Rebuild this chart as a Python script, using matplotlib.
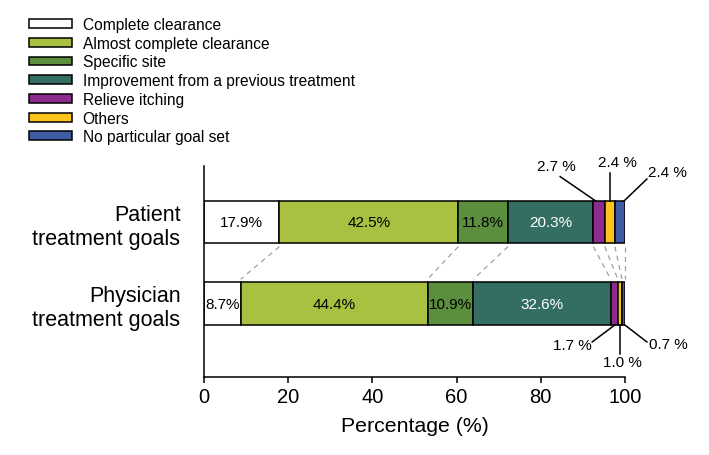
import numpy as np
import matplotlib
matplotlib.use("Agg")
import matplotlib.pyplot as plt
from matplotlib.patches import Patch

plt.rcParams["font.family"] = ["Liberation Sans", "DejaVu Sans"]

# ---------------------------------------------------------------------------
# DATA
# ---------------------------------------------------------------------------
categories = ["Complete clearance", "Almost complete clearance", "Specific site",
              "Improvement from a previous treatment", "Relieve itching",
              "Others", "No particular goal set"]
colors = ["#ffffff", "#a9c141", "#5b8f3d", "#346e63", "#8c2a8f", "#fbc31b", "#3e5ba3"]
text_colors = ["black", "black", "black", "white"]

groups = ["Physician\ntreatment goals", "Patient\ntreatment goals"]
patient = [17.9, 42.5, 11.8, 20.3, 2.7, 2.4, 2.4]
physician = [8.7, 44.4, 10.9, 32.6, 1.7, 1.0, 0.7]

H = 0.52

fig = plt.figure(figsize=(7.09, 4.56), dpi=100)
ax = fig.add_axes([204 / 709, 78 / 456, 421 / 709, 211 / 456])

cum_pat = np.concatenate([[0], np.cumsum(patient)])
cum_phy = np.concatenate([[0], np.cumsum(physician)])

for i, c in enumerate(categories):
    ax.barh(1, patient[i], left=cum_pat[i], height=H, color=colors[i],
            edgecolor="black", linewidth=1.1)
    ax.barh(0, physician[i], left=cum_phy[i], height=H, color=colors[i],
            edgecolor="black", linewidth=1.1)

# in-bar labels for the four big segments
for i in range(4):
    ax.text(cum_pat[i] + patient[i] / 2, 1, f"{patient[i]}%", ha="center",
            va="center", fontsize=11, color=text_colors[i])
    ax.text(cum_phy[i] + physician[i] / 2, 0, f"{physician[i]}%", ha="center",
            va="center", fontsize=11, color=text_colors[i])

# dashed connectors between segment boundaries
for k in [1, 2, 3, 4, 5, 6, 7]:
    ax.plot([cum_pat[k], cum_phy[k]], [1 - H / 2 - 0.04, H / 2 + 0.04],
            color="#a0a0a0", lw=0.9, ls=(0, (4, 3.5)), clip_on=False)

# leader labels for the small segments
# (segment index, anchor fraction in segment, line end, text pos)
pat_notes = [(4, 0.2, (84.6, 1.56), (83.6, 1.69)),
             (5, 0.5, None, (98.1, 1.74)),
             (6, 0.9, (105.2, 1.53), (110.0, 1.62))]
phy_notes = [(4, 0.6, (92.2, -0.47), (87.4, -0.51)),
             (5, 0.5, None, (99.3, -0.71)),
             (6, 0.9, (105.2, -0.47), (110.2, -0.49))]

for idx, frac, end, tpos in pat_notes:
    x0 = cum_pat[idx] + patient[idx] * frac
    if end is None:
        end = (x0, 1.61)
    ax.plot([x0, end[0]], [1 + H / 2, end[1]], color="black", lw=1.1, clip_on=False)
    ax.text(tpos[0], tpos[1], f"{patient[idx]} %", ha="center", va="center",
            fontsize=11, clip_on=False)

for idx, frac, end, tpos in phy_notes:
    x0 = cum_phy[idx] + physician[idx] * frac
    if end is None:
        end = (x0, -0.62)
    ax.plot([x0, end[0]], [-H / 2, end[1]], color="black", lw=1.1, clip_on=False)
    ax.text(tpos[0], tpos[1], f"{physician[idx]} %", ha="center", va="center",
            fontsize=11, clip_on=False)

ax.set_xlim(0, 100)
ax.set_ylim(-0.9, 1.69)
ax.set_xticks([0, 20, 40, 60, 80, 100])
ax.set_yticks([0, 1])
ax.set_yticklabels(groups, fontsize=15.5)
ax.tick_params(axis="y", length=0, pad=17)
ax.tick_params(axis="x", labelsize=14.5, length=4, width=1.1, direction="out")
ax.set_xlabel("Percentage (%)", fontsize=15.3, labelpad=7)
for s in ["top", "right"]:
    ax.spines[s].set_visible(False)
for s in ["left", "bottom"]:
    ax.spines[s].set_linewidth(1.1)

handles = [Patch(facecolor=colors[i], edgecolor="black", linewidth=1.1, label=c)
           for i, c in enumerate(categories)]
fig.legend(handles=handles, loc="upper left", bbox_to_anchor=(29 / 709, 1 - 18 / 456),
           frameon=False, fontsize=11.2, borderpad=0, borderaxespad=0,
           handlelength=2.75, handleheight=0.5, handletextpad=0.7,
           labelspacing=0.24)

fig.savefig("out.png", dpi=100)
